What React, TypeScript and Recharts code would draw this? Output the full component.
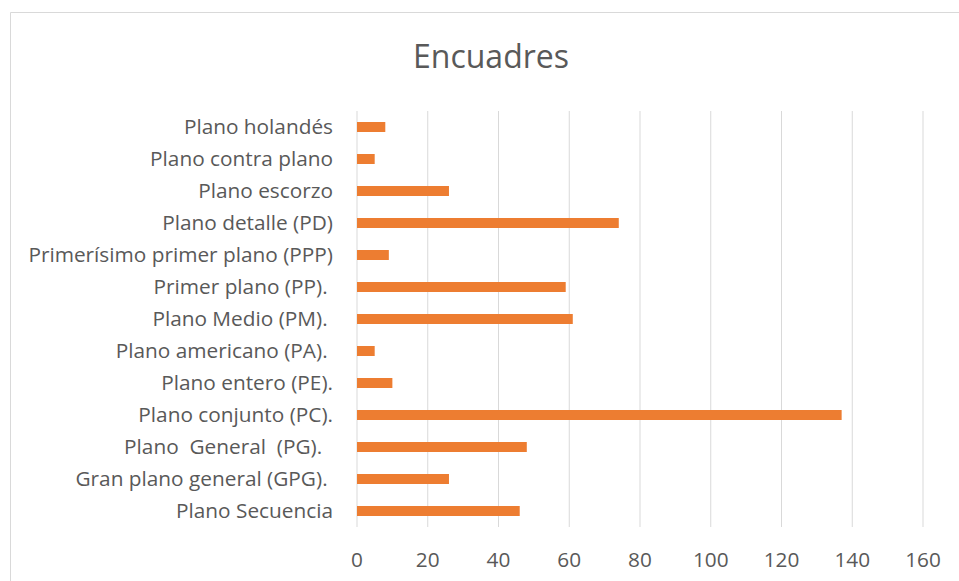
import { BarChart, Bar, XAxis, YAxis, CartesianGrid } from "recharts";

// encuadres, listed top to bottom as they appear on the axis
const CATEGORIES = [
  "Plano holandés",
  "Plano contra plano",
  "Plano escorzo",
  "Plano detalle (PD)",
  "Primerísimo primer plano (PPP)",
  "Primer plano (PP). ",
  "Plano Medio (PM). ",
  "Plano americano (PA). ",
  "Plano entero (PE).",
  "Plano conjunto (PC).",
  "Plano  General  (PG).  ",
  "Gran plano general (GPG). ",
  "Plano Secuencia",
];
const COUNTS = [8, 5, 26, 74, 9, 59, 61, 5, 10, 137, 48, 26, 46];
const X_TICKS = [0, 20, 40, 60, 80, 100, 120, 140, 160];

const FONT = "'Open Sans', sans-serif";
const TEXT = "#595959";
const ORANGE = "#ED7D31";
const GRID = "#d9d9d9";

const data = CATEGORIES.map((name, i) => ({ name, value: COUNTS[i] }));

// keeps the doubled / trailing spaces in the labels
const CategoryTick = (props: any) => {
  const { x, y, payload } = props;
  return (
    <text
      x={x - 16}
      y={y}
      dy="0.36em"
      textAnchor="end"
      fill={TEXT}
      fontSize={20.8}
      fontFamily={FONT}
      style={{ whiteSpace: "pre" }}
    >
      {payload.value}
    </text>
  );
};

export default function App() {
  return (
    <div style={{ position: "absolute", left: 0, top: 0, width: 959, height: 581, background: "#fff" }}>
      <svg width={959} height={581} style={{ position: "absolute", left: 0, top: 0 }}>
        <path d="M10.5 581 V12.5 H959" fill="none" stroke={GRID} strokeWidth={1} />
        <text x={491} y={68} textAnchor="middle" fill={TEXT} fontSize={32} fontFamily={FONT}>
          Encuadres
        </text>
      </svg>
      <div style={{ position: "absolute", left: 0, top: 0 }}>
        <BarChart
          width={959}
          height={581}
          data={data}
          layout="vertical"
          margin={{ top: 111, right: 36, bottom: 0, left: 0 }}
          barCategoryGap={0}
        >
          <CartesianGrid horizontal={false} stroke={GRID} strokeWidth={1} />
          <XAxis
            type="number"
            domain={[0, 160]}
            ticks={X_TICKS}
            interval={0}
            height={54}
            axisLine={false}
            tickLine={false}
            tickMargin={19}
            tick={{ fill: TEXT, fontSize: 20.8, fontFamily: FONT }}
          />
          <YAxis
            type="category"
            dataKey="name"
            width={357}
            axisLine={false}
            tickLine={false}
            interval={0}
            tick={<CategoryTick />}
          />
          <Bar dataKey="value" fill={ORANGE} barSize={10} isAnimationActive={false} />
        </BarChart>
      </div>
    </div>
  );
}
